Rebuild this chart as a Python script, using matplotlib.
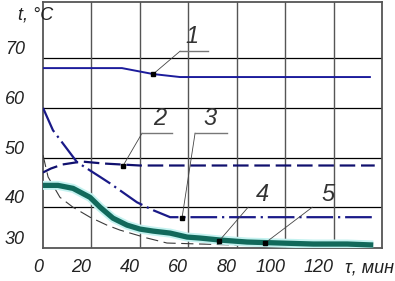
#!/usr/bin/env python3
"""Temperature vs time curves 1..5 (hand-drawn style engineering chart)."""

import matplotlib
matplotlib.use("Agg")
import matplotlib.pyplot as plt

plt.rcParams["font.family"] = ["Liberation Sans Narrow", "Liberation Sans", "DejaVu Sans"]

# ---- data ----------------------------------------------------------------
t1 = [0, 32.6, 45.5, 56.6, 135]
y1 = [68.0, 68.0, 66.8, 66.2, 66.2]

t2 = [0, 3.3, 8, 16, 25, 40, 137]
y2 = [47.0, 47.8, 48.6, 49.2, 48.8, 48.4, 48.4]

t3 = [0, 4.1, 14.0, 23.6, 27.7, 38.8, 45.5, 52.5, 137]
y3 = [60.0, 55.5, 49.1, 46.1, 44.8, 41.0, 39.4, 38.0, 38.0]

t4 = [0, 6.2, 12.4, 19.4, 23.6, 28.9, 34.7, 40.1, 45.5, 52.5, 59.5, 64.9,
      73.1, 84.3, 97.9, 111.6, 125.6, 136.4]
y4 = [44.4, 44.4, 43.8, 42.0, 40.0, 37.8, 36.4, 35.6, 35.2, 34.8, 34.0, 33.8,
      33.4, 33.0, 32.8, 32.6, 32.6, 32.4]

t5 = [0, 2.1, 7.0, 12.4, 19.4, 26.4, 31.8, 43.0, 51.2, 64.9, 80, 95]
y5 = [50.5, 46.1, 42.0, 40.0, 38.0, 36.4, 35.4, 33.8, 32.8, 32.6, 32.4, 32.3]

# curve labels with leader lines: marker point -> elbow -> (optional) underline
labels = ["1", "2", "3", "4", "5"]
marker_t = [45.5, 33.0, 57.4, 72.7, 91.7]
marker_y = [66.8, 48.3, 37.8, 33.2, 32.8]
elbow_t = [56.6, 40.9, 62.8, 84.7, 111.2]
elbow_y = [71.4, 54.9, 54.9, 40.0, 40.0]
under_end = [68.2, 53.3, 76.0, None, None]
text_t = [61.6, 48.3, 69.0, 90.5, 117.8]
text_y = [74.3, 57.8, 57.8, 42.6, 42.6]

xticks = [0, 20, 40, 60, 80, 100, 120]
yticks = [31.8, 40, 50, 60, 70]
ytick_labels = ["30", "40", "50", "60", "70"]

W, H = 395, 281
fig = plt.figure(figsize=(W / 100, H / 100), dpi=100)
ax = fig.add_axes([43 / W, (H - 248) / H, 339 / W, 246 / H])
ax.set_xlim(0, 140)
ax.set_ylim(31.8, 81.3)

# grid
for v in [40, 50, 60, 70]:
    ax.axhline(v, color="black", lw=0.9, zorder=1)
for v in [20, 40, 60, 80, 100, 120]:
    ax.axvline(v, color="#555555", lw=1.0, zorder=1)
for s in ax.spines.values():
    s.set_color("#555555")
    s.set_linewidth(1.3)

# curves
ax.plot(t1, y1, color="#1c1c9c", lw=1.4, zorder=3)
ax.plot(t2, y2, color="#10106e", lw=1.6, dashes=(7, 2.6), zorder=3)
ax.plot(t3, y3, color="#1a1a88", lw=1.6, dashes=(12, 2.2, 1, 2.2), zorder=3)
ax.plot(t5, y5, color="#3a3a3a", lw=0.8, dashes=(11, 5), zorder=3)
ax.plot(t4, y4, color="#c4f2f0", lw=6.5, solid_capstyle="butt", zorder=4)
ax.plot(t4, y4, color="#11695b", lw=3.8, solid_capstyle="butt", zorder=5)

# leaders + labels
for i, lab in enumerate(labels):
    ax.plot([marker_t[i], elbow_t[i]], [marker_y[i], elbow_y[i]],
            color="#444444", lw=0.6, zorder=6)
    if under_end[i] is not None:
        ax.plot([elbow_t[i], under_end[i]], [elbow_y[i], elbow_y[i]],
                color="#777777", lw=1.0, zorder=6)
    ax.plot(marker_t[i], marker_y[i], "s", color="black", ms=3, zorder=7)
    ax.text(text_t[i], text_y[i], lab, fontsize=17, style="italic",
            color="#333333", ha="center", va="center", zorder=7)

# ticks
ax.tick_params(length=0)
ax.set_xticks(xticks)
ax.set_xticklabels([str(v) for v in xticks], fontsize=13, style="italic",
                   color="#222222", ha="right")
ax.tick_params(axis="x", pad=8)
ax.set_yticks(yticks)
ax.set_yticklabels(ytick_labels, fontsize=13, style="italic",
                   color="#222222", va="bottom")
ax.tick_params(axis="y", pad=13)

fig.text(345 / W, 1 - 268 / H, "τ, мин", fontsize=13, style="italic",
         color="#222222", ha="left", va="center")
fig.text(18 / W, 1 - 15 / H, "t, °C", fontsize=13, style="italic",
         color="#222222", ha="left", va="center")

fig.savefig("out.png", dpi=100)
